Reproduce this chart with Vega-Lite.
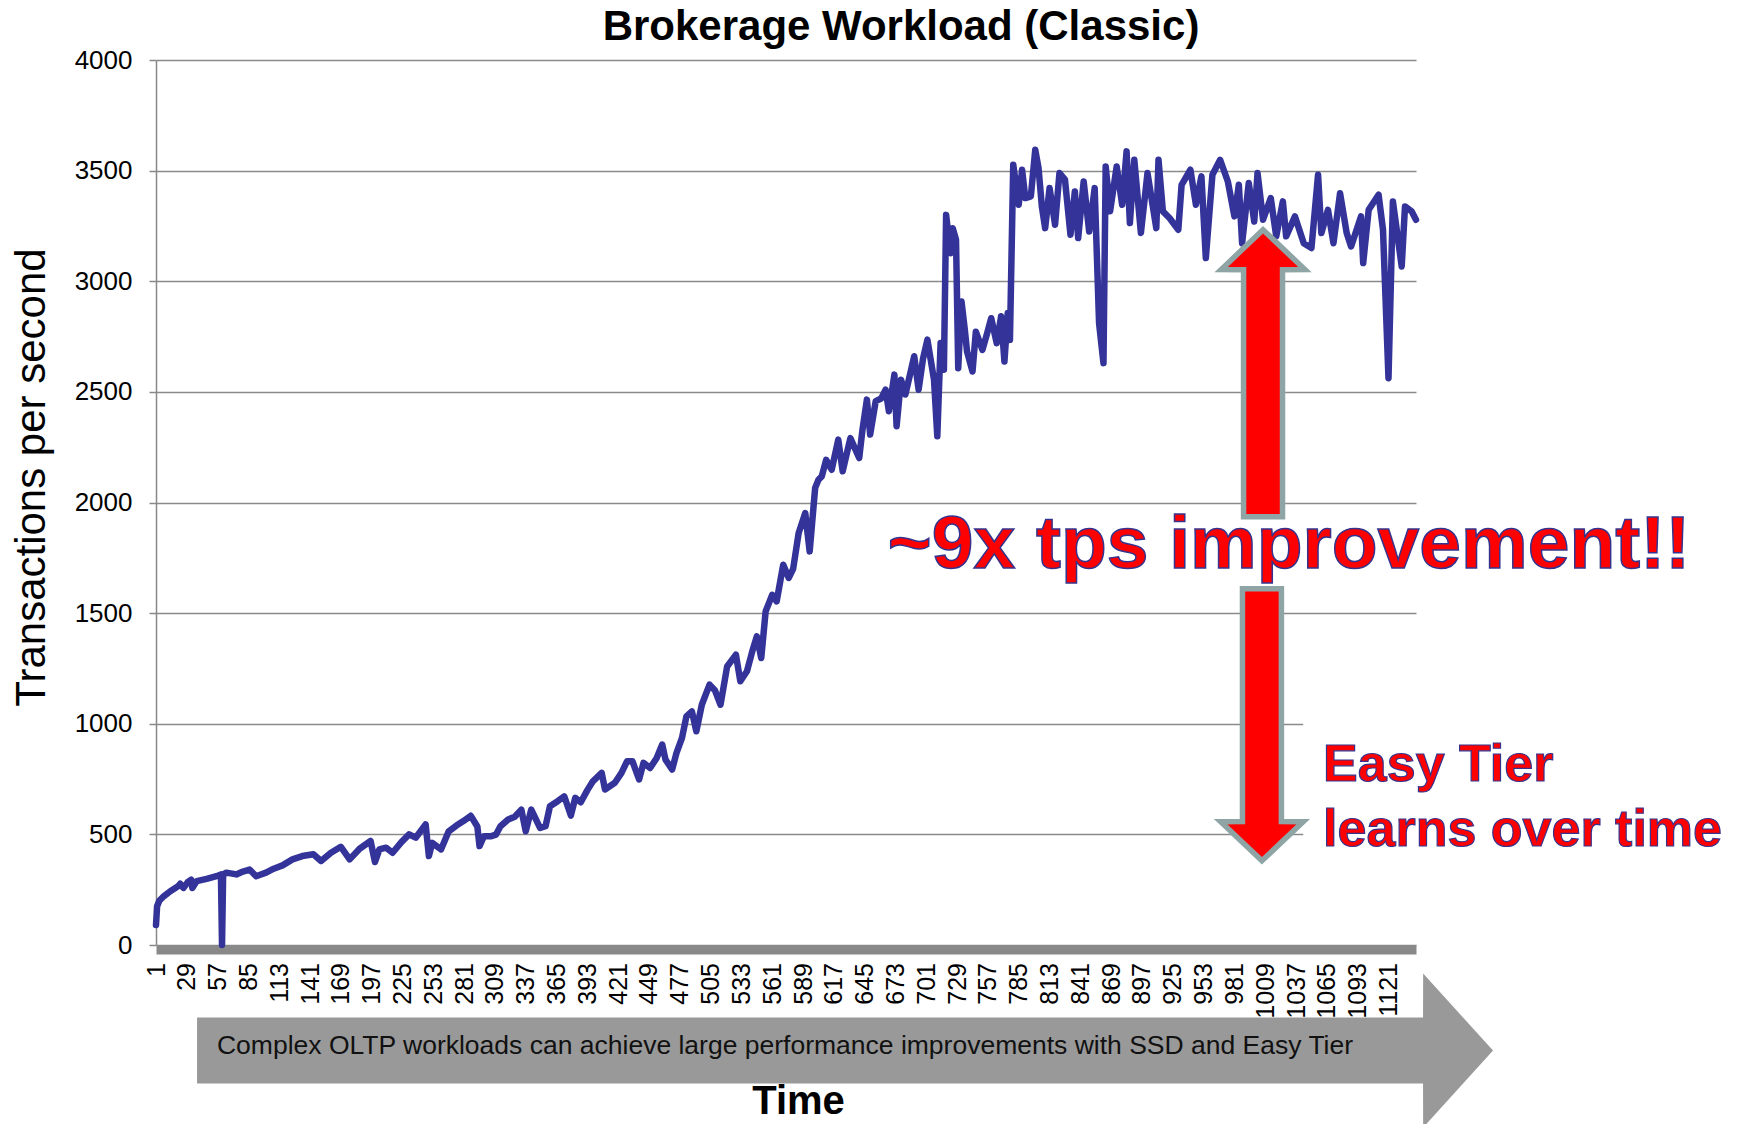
{
  "$schema": "https://vega.github.io/schema/vega-lite/v6.json",
  "width": 1260,
  "height": 885,
  "autosize": {"type": "none"},
  "padding": {"left": 156, "top": 60, "right": 332, "bottom": 179},
  "background": "white",
  "config": {
    "font": "Liberation Sans",
    "view": {"stroke": null},
    "axisX": {"labelOverlap": false, "tickCount": 60, "labelFlush": false, "labelAngle": -90, "ticks": false, "grid": false, "labelFontSize": 25, "labelPadding": 13, "labelColor": "black", "domainColor": "#898989", "domainWidth": 9, "offset": 4.5},
    "axisY": {"labelOverlap": false, "labelFontSize": 26, "labelColor": "black", "labelPadding": 17, "grid": true}
  },
  "title": {"text": "Brokerage Workload (Classic)", "fontSize": 42, "fontWeight": "bold", "color": "black", "anchor": "middle", "frame": "group", "dx": 115, "offset": -2},
  "datasets": {
    "tps": [
      {"t":1,"tps":90},{"t":2,"tps":175},{"t":4,"tps":200},{"t":8,"tps":220},{"t":14,"tps":243},{"t":21,"tps":265},{"t":23,"tps":277},{"t":26,"tps":258},{"t":30,"tps":285},{"t":33,"tps":295},{"t":34,"tps":258},{"t":38,"tps":289},{"t":47,"tps":299},{"t":56,"tps":311},{"t":60,"tps":319},{"t":61,"tps":0},{"t":62,"tps":318},{"t":65,"tps":327},{"t":74,"tps":319},{"t":80,"tps":332},{"t":86,"tps":341},{"t":92,"tps":311},{"t":101,"tps":327},{"t":108,"tps":345},{"t":116,"tps":360},{"t":125,"tps":387},{"t":134,"tps":402},{"t":144,"tps":410},{"t":151,"tps":380},{"t":160,"tps":417},{"t":169,"tps":444},{"t":177,"tps":387},{"t":186,"tps":435},{"t":196,"tps":470},{"t":200,"tps":375},{"t":204,"tps":432},{"t":210,"tps":440},{"t":216,"tps":417},{"t":224,"tps":465},{"t":231,"tps":500},{"t":237,"tps":485},{"t":246,"tps":545},{"t":249,"tps":402},{"t":252,"tps":462},{"t":260,"tps":432},{"t":267,"tps":514},{"t":274,"tps":540},{"t":280,"tps":559},{"t":287,"tps":584},{"t":293,"tps":536},{"t":295,"tps":447},{"t":299,"tps":492},{"t":305,"tps":491},{"t":310,"tps":499},{"t":314,"tps":537},{"t":321,"tps":567},{"t":327,"tps":580},{"t":333,"tps":612},{"t":337,"tps":514},{"t":342,"tps":612},{"t":350,"tps":529},{"t":355,"tps":537},{"t":359,"tps":627},{"t":366,"tps":650},{"t":372,"tps":672},{"t":378,"tps":585},{"t":382,"tps":665},{"t":387,"tps":645},{"t":393,"tps":700},{"t":398,"tps":740},{"t":406,"tps":778},{"t":409,"tps":703},{"t":418,"tps":733},{"t":424,"tps":778},{"t":429,"tps":830},{"t":434,"tps":830},{"t":440,"tps":748},{"t":444,"tps":823},{"t":450,"tps":800},{"t":456,"tps":845},{"t":461,"tps":906},{"t":464,"tps":838},{"t":470,"tps":793},{"t":474,"tps":868},{"t":479,"tps":936},{"t":483,"tps":1033},{"t":488,"tps":1056},{"t":492,"tps":966},{"t":497,"tps":1086},{"t":504,"tps":1177},{"t":509,"tps":1150},{"t":514,"tps":1086},{"t":520,"tps":1259},{"t":528,"tps":1312},{"t":532,"tps":1192},{"t":538,"tps":1237},{"t":543,"tps":1330},{"t":547,"tps":1395},{"t":551,"tps":1297},{"t":555,"tps":1508},{"t":561,"tps":1583},{"t":565,"tps":1553},{"t":571,"tps":1719},{"t":576,"tps":1659},{"t":580,"tps":1700},{"t":585,"tps":1862},{"t":591,"tps":1952},{"t":595,"tps":1779},{"t":598,"tps":1952},{"t":600,"tps":2066},{"t":603,"tps":2103},{"t":606,"tps":2118},{"t":610,"tps":2193},{"t":615,"tps":2148},{"t":621,"tps":2284},{"t":625,"tps":2141},{"t":632,"tps":2291},{"t":640,"tps":2201},{"t":643,"tps":2329},{"t":647,"tps":2465},{"t":650,"tps":2307},{"t":655,"tps":2458},{"t":660,"tps":2470},{"t":664,"tps":2510},{"t":667,"tps":2412},{"t":672,"tps":2578},{"t":674,"tps":2345},{"t":678,"tps":2555},{"t":682,"tps":2488},{"t":690,"tps":2661},{"t":694,"tps":2510},{"t":698,"tps":2650},{"t":702,"tps":2736},{"t":708,"tps":2555},{"t":711,"tps":2299},{"t":714,"tps":2721},{"t":717,"tps":2600},{"t":719,"tps":3300},{"t":723,"tps":3127},{"t":725,"tps":3240},{"t":728,"tps":3188},{"t":730,"tps":2607},{"t":733,"tps":2908},{"t":736,"tps":2780},{"t":738,"tps":2683},{"t":743,"tps":2592},{"t":746,"tps":2772},{"t":752,"tps":2690},{"t":756,"tps":2760},{"t":760,"tps":2833},{"t":765,"tps":2720},{"t":769,"tps":2842},{"t":772,"tps":2637},{"t":775,"tps":2856},{"t":777,"tps":2735},{"t":780,"tps":3527},{"t":785,"tps":3346},{"t":788,"tps":3504},{"t":791,"tps":3376},{"t":796,"tps":3384},{"t":800,"tps":3594},{"t":803,"tps":3511},{"t":806,"tps":3338},{"t":809,"tps":3240},{"t":813,"tps":3421},{"t":818,"tps":3255},{"t":822,"tps":3489},{"t":827,"tps":3459},{"t":832,"tps":3210},{"t":836,"tps":3406},{"t":839,"tps":3195},{"t":844,"tps":3451},{"t":849,"tps":3225},{"t":854,"tps":3421},{"t":858,"tps":2811},{"t":862,"tps":2630},{"t":864,"tps":3519},{"t":868,"tps":3316},{"t":874,"tps":3519},{"t":879,"tps":3346},{"t":883,"tps":3587},{"t":886,"tps":3263},{"t":890,"tps":3549},{"t":896,"tps":3218},{"t":902,"tps":3489},{"t":910,"tps":3240},{"t":912,"tps":3549},{"t":916,"tps":3316},{"t":922,"tps":3286},{"t":930,"tps":3233},{"t":933,"tps":3436},{"t":941,"tps":3504},{"t":946,"tps":3346},{"t":951,"tps":3474},{"t":955,"tps":3105},{"t":961,"tps":3481},{"t":968,"tps":3549},{"t":975,"tps":3451},{"t":981,"tps":3293},{"t":985,"tps":3436},{"t":988,"tps":3172},{"t":994,"tps":3444},{"t":999,"tps":3270},{"t":1002,"tps":3489},{"t":1007,"tps":3278},{"t":1014,"tps":3376},{"t":1019,"tps":3203},{"t":1025,"tps":3361},{"t":1028,"tps":3203},{"t":1036,"tps":3293},{"t":1044,"tps":3172},{"t":1051,"tps":3150},{"t":1057,"tps":3481},{"t":1060,"tps":3218},{"t":1066,"tps":3323},{"t":1071,"tps":3172},{"t":1077,"tps":3398},{"t":1083,"tps":3218},{"t":1087,"tps":3157},{"t":1096,"tps":3293},{"t":1098,"tps":3082},{"t":1103,"tps":3323},{"t":1112,"tps":3391},{"t":1116,"tps":3233},{"t":1121,"tps":2562},{"t":1125,"tps":3361},{"t":1133,"tps":3067},{"t":1136,"tps":3338},{"t":1142,"tps":3316},{"t":1146,"tps":3278}
    ],
    "grayArrow": [
      {"t":38.3,"lo":-626,"hi":-328},
      {"t":1152.4,"lo":-626,"hi":-328},
      {"t":1152.5,"lo":-825,"hi":-129},
      {"t":1216,"lo":-477,"hi":-477}
    ],
    "redArrows": [
      {"part":"up","v":1936,"xl":989.3,"xr":1024.7},
      {"part":"up","v":3052,"xl":989.3,"xr":1024.7},
      {"part":"up","v":3053,"xl":969,"xr":1045},
      {"part":"up","v":3233,"xl":1007,"xr":1007},
      {"part":"down","v":381,"xl":1006,"xr":1006},
      {"part":"down","v":557,"xl":968.5,"xr":1043.5},
      {"part":"down","v":558,"xl":988.3,"xr":1023.7},
      {"part":"down","v":1610,"xl":988.3,"xr":1023.7}
    ]
  },
  "layer": [
    {
      "data": {"name": "tps"},
      "mark": {"type": "line", "color": "#333399", "strokeWidth": 6.5, "strokeJoin": "round", "strokeCap": "round"},
      "encoding": {
        "x": {
          "field": "t", "type": "quantitative", "title": "Time",
          "scale": {"domain": [1, 1146], "nice": false, "zero": false},
          "axis": {
            "values": [1,29,57,85,113,141,169,197,225,253,281,309,337,365,393,421,449,477,505,533,561,589,617,645,673,701,729,757,785,813,841,869,897,925,953,981,1009,1037,1065,1093,1121],
            "tickCount": 60,
            "format": "d", "labelAngle": -90, "labelFontSize": 25, "labelColor": "black", "labelPadding": 13,
            "labelOverlap": false, "labelFlush": false, "ticks": false, "grid": false,
            "domainColor": "#898989", "domainWidth": 9, "offset": 4.5,
            "titleFontSize": 40, "titleFontWeight": "bold", "titleColor": "black",
            "titleX": 642, "titleY": 164, "titleAlign": "center", "titleBaseline": "alphabetic", "titleAngle": 0
          }
        },
        "y": {
          "field": "tps", "type": "quantitative", "title": "Transactions per second",
          "scale": {"domain": [0, 4000], "nice": false},
          "axis": {
            "values": [0,500,1000,1500,2000,2500,3000,3500,4000], "format": "d",
            "labelFontSize": 26, "labelColor": "black", "labelPadding": 17,
            "tickSize": 7, "tickColor": "#888888", "tickWidth": 1.5,
            "domainColor": "#888888", "domainWidth": 1.5,
            "grid": true, "gridColor": "#8a8a8a", "gridWidth": 1.5,
            "titleFontSize": 42, "titleFontWeight": "normal", "titleColor": "black",
            "titleAngle": -90, "titleX": -125, "titleY": 417, "titleAlign": "center", "titleBaseline": "middle"
          }
        }
      }
    },
    {
      "data": {"values": [{}]},
      "mark": {"type": "rect", "fill": "white", "stroke": null},
      "encoding": {
        "x": {"datum": 1043.5, "type": "quantitative", "title": "Time"},
        "x2": {"datum": 1152},
        "y": {"datum": 300, "type": "quantitative", "title": "Transactions per second"},
        "y2": {"datum": 1150}
      }
    },
    {
      "data": {"name": "grayArrow"},
      "mark": {"type": "area", "orient": "vertical", "color": "#999999", "opacity": 1},
      "encoding": {
        "x": {"field": "t", "type": "quantitative", "title": "Time"},
        "y": {"field": "lo", "type": "quantitative", "title": "Transactions per second"},
        "y2": {"field": "hi"}
      }
    },
    {
      "data": {"values": [{}]},
      "mark": {"type": "text", "align": "left", "baseline": "middle", "fontSize": 26.5, "color": "#111111"},
      "encoding": {
        "x": {"datum": 56.4, "type": "quantitative", "title": "Time"},
        "y": {"datum": -455, "type": "quantitative", "title": "Transactions per second"},
        "text": {"value": "Complex OLTP workloads can achieve large performance improvements with SSD and Easy Tier"}
      }
    },
    {
      "data": {"name": "redArrows"},
      "mark": {"type": "area", "orient": "horizontal", "fill": "#ff0000", "stroke": "#8fa5a5", "strokeWidth": 5.5, "opacity": 1, "strokeJoin": "miter"},
      "encoding": {
        "y": {"field": "v", "type": "quantitative", "title": "Transactions per second"},
        "x": {"field": "xl", "type": "quantitative", "title": "Time"},
        "x2": {"field": "xr"},
        "detail": {"field": "part", "type": "nominal"}
      }
    },
    {
      "data": {"values": [{}]},
      "mark": {"type": "text", "align": "center", "baseline": "alphabetic", "fontSize": 75, "fontWeight": "bold", "fill": "#ff0000", "stroke": "#34348f", "strokeWidth": 1.5},
      "encoding": {
        "x": {"datum": 1030.6, "type": "quantitative", "title": "Time"},
        "y": {"datum": 1705, "type": "quantitative", "title": "Transactions per second"},
        "text": {"value": "~9x tps improvement!!"}
      }
    },
    {
      "data": {"values": [{}]},
      "mark": {"type": "text", "align": "left", "baseline": "alphabetic", "fontSize": 52, "fontWeight": "bold", "fill": "#ff0000", "stroke": "#34348f", "strokeWidth": 1.2},
      "encoding": {
        "x": {"datum": 1061.6, "type": "quantitative", "title": "Time"},
        "y": {"datum": 740, "type": "quantitative", "title": "Transactions per second"},
        "text": {"value": "Easy Tier"}
      }
    },
    {
      "data": {"values": [{}]},
      "mark": {"type": "text", "align": "left", "baseline": "alphabetic", "fontSize": 52, "fontWeight": "bold", "fill": "#ff0000", "stroke": "#34348f", "strokeWidth": 1.2},
      "encoding": {
        "x": {"datum": 1061.6, "type": "quantitative", "title": "Time"},
        "y": {"datum": 446, "type": "quantitative", "title": "Transactions per second"},
        "text": {"value": "learns over time"}
      }
    }
  ]
}
